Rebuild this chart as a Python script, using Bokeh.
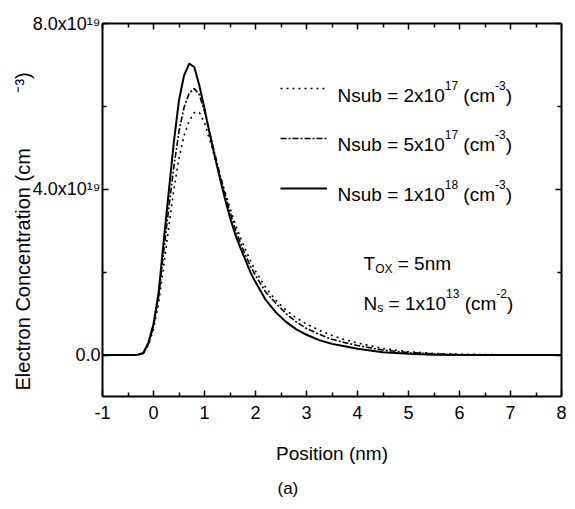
from bokeh.plotting import figure
from bokeh.models import (LinearAxis, FixedTicker, Label, Legend, LegendItem,
                          ColumnDataSource, Range1d, Title)
from bokeh.embed import file_html
from bokeh.resources import INLINE

# ---------------- data ----------------
position = [-1.0, -0.5, -0.3, -0.2, -0.1, 0.0, 0.1, 0.2, 0.3, 0.4, 0.5, 0.6, 0.7,
            0.8, 0.9, 1.0, 1.1, 1.2, 1.3, 1.4, 1.5, 1.6, 1.7, 1.8, 1.9, 2.0,
            2.2, 2.4, 2.6, 2.8, 3.0, 3.25, 3.5, 3.75, 4.0, 4.5, 5.0, 5.5, 6.0,
            7.0, 8.0]
# electron concentration in units of 1e19 cm^-3
n_2e17 = [0, 0, 0.01, 0.03, 0.24, 0.62, 1.25, 2.15, 3.1, 4.0, 4.75, 5.3, 5.65,
          5.85, 5.85, 5.6, 5.2, 4.78, 4.35, 3.95, 3.55, 3.17, 2.85, 2.55, 2.28, 2.03,
          1.63, 1.32, 1.08, 0.9, 0.75, 0.6, 0.47, 0.37, 0.29, 0.16, 0.08, 0.04, 0.02,
          0.005, 0]
n_5e17 = [0, 0, 0.01, 0.04, 0.27, 0.7, 1.4, 2.5, 3.55, 4.55, 5.4, 5.98, 6.32,
          6.43, 6.28, 5.88, 5.38, 4.87, 4.37, 3.9, 3.45, 3.05, 2.72, 2.42, 2.15, 1.92,
          1.52, 1.25, 1.0, 0.8, 0.64, 0.5, 0.38, 0.3, 0.23, 0.12, 0.06, 0.03, 0.01,
          0, 0]
n_1e18 = [0, 0, 0.01, 0.05, 0.3, 0.75, 1.5, 2.75, 3.95, 5.15, 6.15, 6.75, 7.03,
          6.95, 6.5, 5.95, 5.35, 4.8, 4.28, 3.78, 3.32, 2.92, 2.6, 2.3, 2.0, 1.76,
          1.33, 1.03, 0.8, 0.62, 0.49, 0.36, 0.27, 0.21, 0.15, 0.07, 0.03, 0.01, 0.0,
          0, 0]
SCALE = 1e19

x_ticks = [-1, 0, 1, 2, 3, 4, 5, 6, 7, 8]
x_tick_labels = ["-1", "0", "1", "2", "3", "4", "5", "6", "7", "8"]
x_minor = [-0.5, 0.5, 1.5, 2.5, 3.5, 4.5, 5.5, 6.5, 7.5]
y_ticks = [0.0, 4e19, 8e19]
y_tick_labels = ["0.0", "4.0x10\u00b9\u2079", "8.0x10\u00b9\u2079"]
y_minor = [2e19, 6e19]

FONT = "Liberation Sans"

p = figure(width=575, height=509, output_backend="svg", toolbar_location=None,
           x_axis_type=None, y_axis_type=None,
           x_range=Range1d(-1, 8), y_range=Range1d(-1e19, 8e19),
           min_border_left=102, min_border_right=14, min_border_top=23,
           min_border_bottom=113)
p.outline_line_color = None
p.background_fill_color = "white"
p.border_fill_color = "white"

def style_axis(ax, show_labels):
    ax.axis_line_color = "black"
    ax.axis_line_width = 2
    ax.major_tick_line_color = "black"
    ax.major_tick_line_width = 1.5
    ax.minor_tick_line_color = "black"
    ax.minor_tick_line_width = 1.5
    ax.major_tick_in = 6
    ax.major_tick_out = 0
    ax.minor_tick_in = 4
    ax.minor_tick_out = 0
    ax.major_label_text_font = FONT
    ax.major_label_text_font_size = "18px" if show_labels else "0px"
    ax.major_label_text_color = "black"
    ax.axis_label_text_font = FONT
    ax.axis_label_text_font_style = "normal"
    ax.axis_label_text_color = "black"

xb = LinearAxis(ticker=FixedTicker(ticks=x_ticks, minor_ticks=x_minor))
xb.major_label_overrides = {t: l for t, l in zip(x_ticks, x_tick_labels)}
style_axis(xb, True)
xb.major_label_standoff = 9
xb.axis_label = "Position (nm)"
xb.axis_label_text_font_size = "19px"
xb.axis_label_standoff = 21
p.add_layout(xb, "below")

xt = LinearAxis(ticker=FixedTicker(ticks=x_ticks, minor_ticks=x_minor))
xt.major_label_overrides = {t: "" for t in x_ticks}
style_axis(xt, False)
xt.major_label_standoff = 0
p.add_layout(xt, "above")

yl = LinearAxis(ticker=FixedTicker(ticks=y_ticks, minor_ticks=y_minor))
yl.major_label_overrides = {t: l for t, l in zip(y_ticks, y_tick_labels)}
style_axis(yl, True)
yl.major_label_standoff = 2
p.add_layout(yl, "left")

yr = LinearAxis(ticker=FixedTicker(ticks=y_ticks, minor_ticks=y_minor))
yr.major_label_overrides = {t: "" for t in y_ticks}
style_axis(yr, False)
yr.major_label_standoff = 0
p.add_layout(yr, "right")

# y axis title (the original leaves a gap before "-3)")
ytitle = Title(text="Electron Concentration (cm" + "\u00a0" * 10 + "\u207b\u00b3)",
               align="left", offset=6, text_font=FONT, text_font_size="20px",
               text_font_style="normal", text_color="black", standoff=-8)
p.add_layout(ytitle, "left")

# caption
cap = Title(text="(a)", align="left", offset=175, text_font=FONT,
            text_font_size="17px", text_font_style="normal", text_color="black",
            standoff=20)
p.add_layout(cap, "below")

src = ColumnDataSource(dict(
    x=position,
    a=[v * SCALE for v in n_2e17],
    b=[v * SCALE for v in n_5e17],
    c=[v * SCALE for v in n_1e18],
))
r1 = p.line("x", "a", source=src, line_color="black", line_width=1.6, line_dash="2 4")
r2 = p.line("x", "b", source=src, line_color="black", line_width=1.6, line_dash="6 2 2 2")
r3 = p.line("x", "c", source=src, line_color="black", line_width=2)

legend = Legend(items=[LegendItem(label=" ", renderers=[r1]),
                       LegendItem(label=" ", renderers=[r2]),
                       LegendItem(label=" ", renderers=[r3])],
                location=(178, 198), glyph_width=47, glyph_height=20,
                label_height=20, spacing=30, padding=0, margin=0,
                label_standoff=0, label_width=0, label_text_font_size="1px",
                border_line_alpha=0, background_fill_alpha=0)
p.add_layout(legend)

# ---------------- rich text helpers ----------------
W = {' ': 278, '(': 333, ')': 333, '-': 333, '.': 278, '=': 584, 'N': 722,
     'O': 778, 'X': 667, 'T': 611, 'a': 556, 'b': 556, 'c': 500, 'm': 833,
     'n': 556, 's': 500, 'u': 556, 'x': 500}
for d in "0123456789":
    W[d] = 556

def tw(s, size):
    return sum(W.get(ch, 556) for ch in s) * size / 1000.0

def rich(x, y, pieces):
    off = 0.0
    for t, sz, sh in pieces:
        core = t.strip(" ")
        lead = len(t) - len(t.lstrip(" "))
        trail = len(t) - len(t.rstrip(" "))
        off += tw(" " * lead, sz)
        p.add_layout(Label(x=x, y=y, x_offset=off, y_offset=sh, text=core,
                           text_font=FONT, text_font_size=f"{sz}px",
                           text_color="black", text_align="left",
                           text_baseline="alphabetic"))
        off += tw(core, sz) + tw(" " * trail, sz)

legend_texts = [("2x10", "17"), ("5x10", "17"), ("1x10", "18")]
legend_y = [6.265e19, 5.07e19, 3.866e19]
for (m, e), yy in zip(legend_texts, legend_y):
    rich(3.608, yy, [("Nsub = " + m, 19, 0), (e, 12, 10), (" (cm", 19, 0),
                     ("-3", 12, 10), (")", 19, 0)])

rich(4.118, 2.217e19, [("T", 19, 0), ("OX", 12, -6), (" = 5nm", 19, 0)])
rich(4.118, 1.253e19, [("N", 19, 0), ("s", 12, -5), (" = 1x10", 19, 0), ("13", 12, 10),
                       (" (cm", 19, 0), ("-2", 12, 10), (")", 19, 0)])

open("out.html", "w").write(file_html(p, INLINE))
